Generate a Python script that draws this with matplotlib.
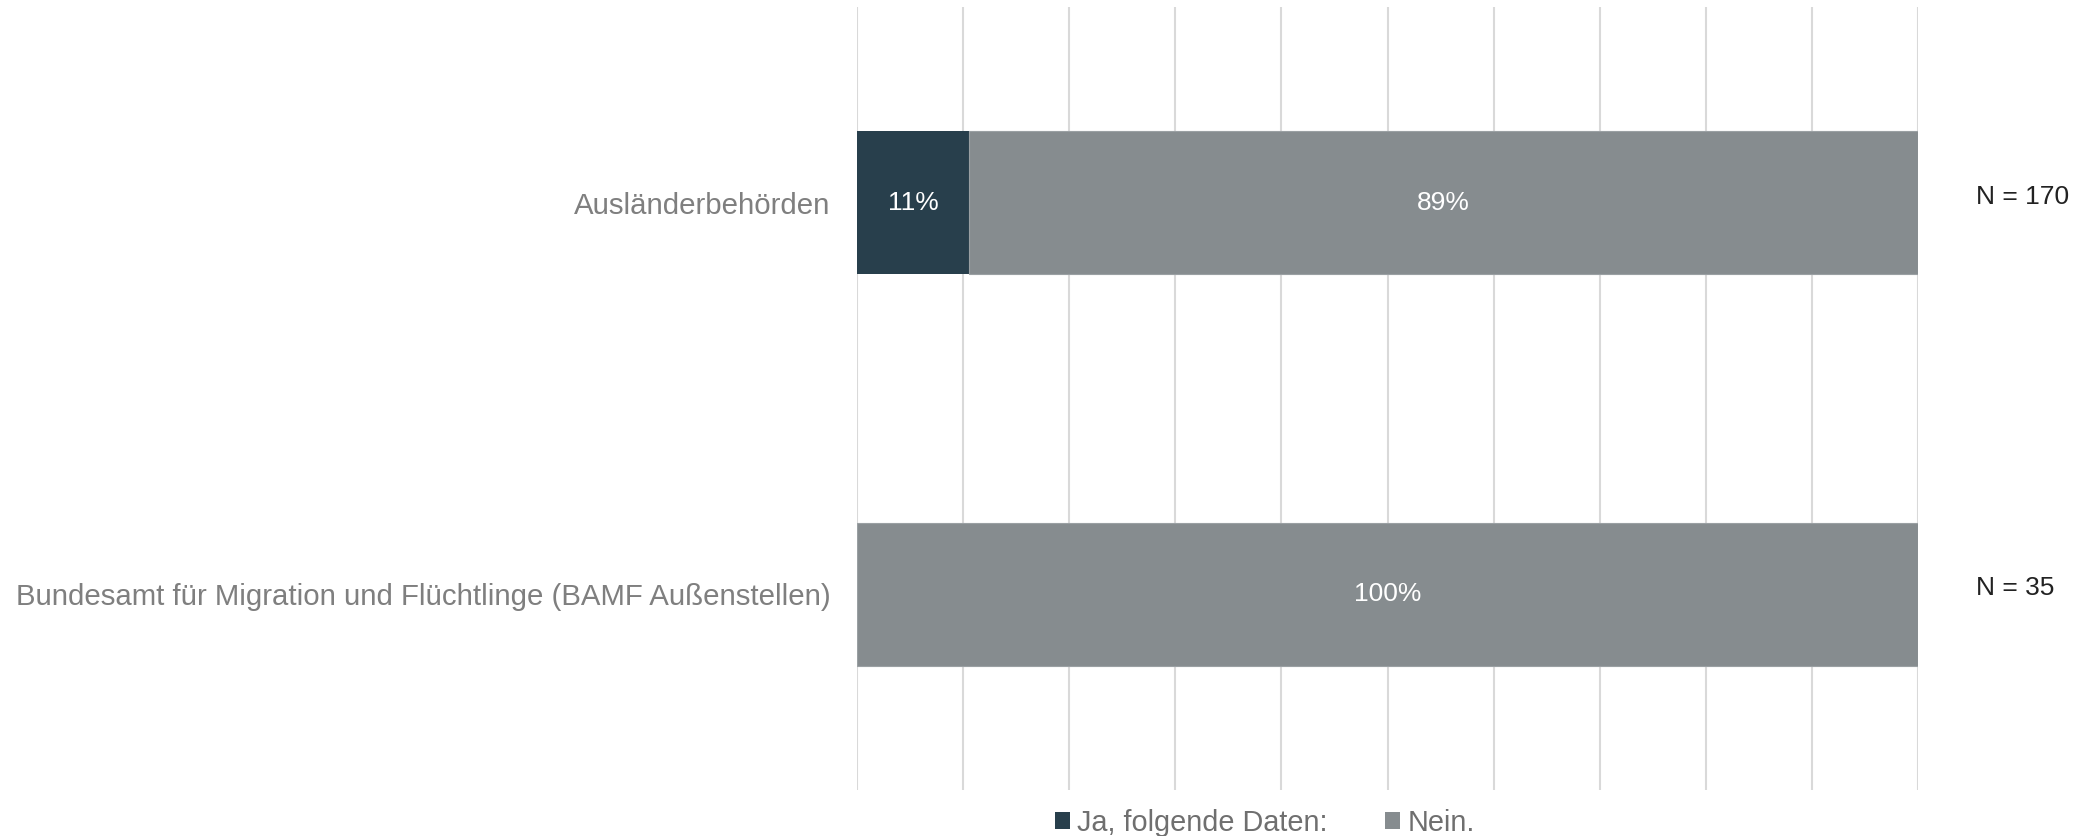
import matplotlib.pyplot as plt
from matplotlib.patches import Patch

plt.rcParams['font.family'] = ['Liberation Sans', 'DejaVu Sans']

# data
categories = ['Ausländerbehörden', 'Bundesamt für Migration und Flüchtlinge (BAMF Außenstellen)']
ja_values = [10.6, 0.0]
nein_values = [89.4, 100.0]
n_labels = ['N = 170', 'N = 35']
series_names = ['Ja, folgende Daten:', 'Nein.']

dark = '#283F4C'
grey = '#868C8F'

fig = plt.figure(figsize=(20.96, 8.36), dpi=100)
ax = fig.add_axes([857 / 2096, 46 / 836, 1061 / 2096, 783 / 836])

y = list(range(len(categories)))
h = 0.365
ax.barh(y, ja_values, height=h, color=dark, edgecolor='none', zorder=2)
ax.barh(y, nein_values, left=ja_values, height=h, color=grey, edgecolor='#9AA0A3',
        linewidth=0.8, zorder=2)

# value labels inside bars
for i in y:
    if ja_values[i] > 0:
        ax.text(ja_values[i] / 2, i, f'{ja_values[i]:.0f}%', ha='center', va='center',
                color='white', fontsize=19, zorder=3)
    if nein_values[i] > 0:
        ax.text(ja_values[i] + nein_values[i] / 2, i, f'{nein_values[i]:.0f}%', ha='center',
                va='center', color='white', fontsize=19, zorder=3)
    ax.text(105.5, i - 0.015, n_labels[i], ha='left', va='center', color='#222222',
            fontsize=19, clip_on=False)

ax.set_xlim(0, 100)
ax.set_ylim(1.5, -0.5)
ax.set_xticks(range(0, 101, 10))
ax.set_xticklabels([])
ax.set_yticks(y)
ax.set_yticklabels(categories, fontsize=21.2, color='#7F7F7F')
ax.tick_params(axis='both', length=0)
ax.tick_params(axis='y', pad=19)
ax.grid(axis='x', color='#D9D9D9', linewidth=1.5, zorder=0)
ax.set_axisbelow(True)
for s in ax.spines.values():
    s.set_visible(False)

handles = [Patch(facecolor=dark), Patch(facecolor=grey)]
fig.legend(handles, series_names, loc='center', bbox_to_anchor=(0.6035, 0.016), ncol=2,
           frameon=False, fontsize=20.8, handlelength=0.52, handleheight=0.52,
           handletextpad=0.25, columnspacing=2.0, labelcolor='#6F6F6F')

fig.savefig('out.png', dpi=100)
